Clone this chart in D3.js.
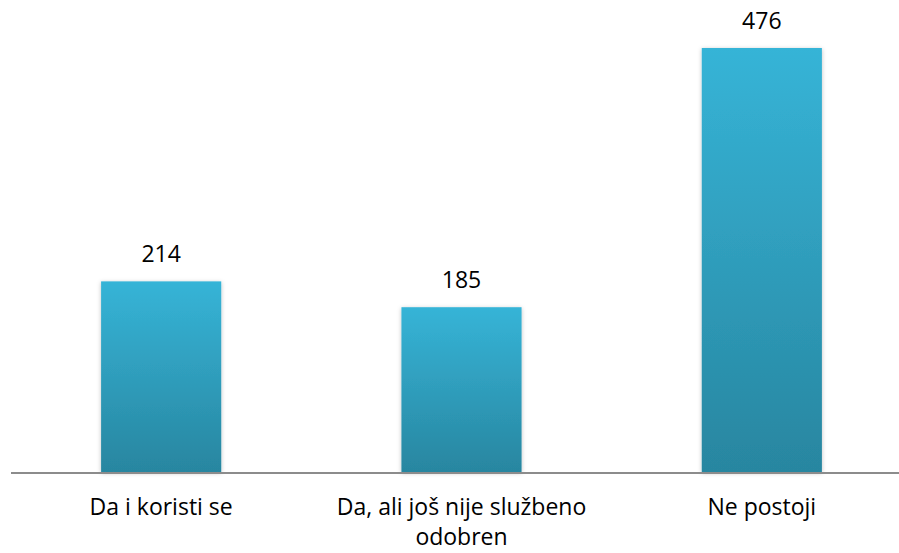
<!DOCTYPE html>
<html><head><meta charset="utf-8">
<script src="https://cdn.jsdelivr.net/npm/d3@7"></script>
<style>body{margin:0;background:#fff}svg{display:block}text{font-variant-ligatures:none}</style>
</head><body>
<svg id="chart" width="899" height="553"></svg>
<script>
const categories = ["Da i koristi se", "Da, ali još nije službeno odobren", "Ne postoji"];
const categoryLines = [["Da i koristi se"], ["Da, ali još nije službeno", "odobren"], ["Ne postoji"]];
const values = [214, 185, 476];

const svg = d3.select("#chart");
const W = 899, H = 553;
const x = d3.scaleBand().domain(categories).range([11, 912]).paddingInner(0.6).paddingOuter(0.3);
const y = d3.scaleLinear().domain([0, 476]).range([472, 48]);

const defs = svg.append("defs");
const g = defs.append("linearGradient").attr("id", "barGrad").attr("x1", 0).attr("y1", 0).attr("x2", 0).attr("y2", 1);
g.append("stop").attr("offset", "0%").attr("stop-color", "#36b4d7");
g.append("stop").attr("offset", "100%").attr("stop-color", "#2886a0");
const f = defs.append("filter").attr("id", "shadow").attr("x", "-20%").attr("y", "-20%").attr("width", "140%").attr("height", "140%");
f.append("feDropShadow").attr("dx", 0).attr("dy", 1).attr("stdDeviation", 2).attr("flood-color", "#000").attr("flood-opacity", 0.25);

const font = "'Open Sans', 'Noto Sans', sans-serif";
const fs = 23;

svg.selectAll("rect.bar").data(values).join("rect")
  .attr("class", "bar")
  .attr("x", (d, i) => x(categories[i]))
  .attr("width", x.bandwidth())
  .attr("y", d => y(d))
  .attr("height", d => y(0) - y(d))
  .attr("fill", "url(#barGrad)")
  .attr("filter", "url(#shadow)");

svg.append("line").attr("x1", 11).attr("x2", W).attr("y1", 473).attr("y2", 473)
  .attr("stroke", "#8c8c8c").attr("stroke-width", 2);

svg.selectAll("text.val").data(values).join("text")
  .attr("class", "val")
  .attr("x", (d, i) => x(categories[i]) + x.bandwidth() / 2)
  .attr("y", d => y(d) - 19)
  .attr("text-anchor", "middle")
  .attr("font-family", font).attr("font-size", fs).attr("fill", "#000")
  .text(d => d);

categoryLines.forEach((lines, i) => {
  const t = svg.append("text")
    .attr("x", x(categories[i]) + x.bandwidth() / 2)
    .attr("y", 515)
    .attr("text-anchor", "middle")
    .attr("font-family", font).attr("font-size", fs).attr("fill", "#000");
  lines.forEach((l, j) => {
    t.append("tspan").attr("x", x(categories[i]) + x.bandwidth() / 2).attr("dy", j === 0 ? 0 : 30).text(l);
  });
});
</script>
</body></html>
